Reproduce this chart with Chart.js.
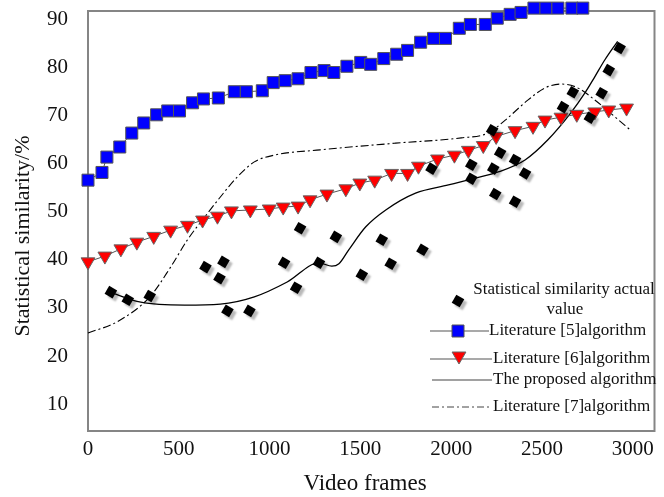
<!DOCTYPE html>
<html><head><meta charset="utf-8">
<script src="https://cdn.jsdelivr.net/npm/chart.js@4/dist/chart.umd.min.js"></script>
<style>html,body{margin:0;padding:0;background:#fff;}canvas{display:block;}</style>
</head><body>
<canvas id="c" width="664" height="497"></canvas>
<script>
// ---- tick labels ----
const xTickValues = [0, 500, 1000, 1500, 2000, 2500, 3000];
const yTickValues = [10, 20, 30, 40, 50, 60, 70, 80, 90];

// ---- Statistical similarity actual value (scatter) ----
const actualFrames = [126, 219, 340, 647, 724, 746, 768, 889, 1080, 1146, 1168, 1272, 1365, 1508, 1618, 1667, 1842, 1892, 2111, 2111, 2226, 2232, 2243, 2270, 2352, 2352, 2407, 2616, 2670, 2764, 2829, 2868, 2928];
const actualValues = [33.3, 31.7, 32.5, 38.5, 36.2, 39.6, 29.4, 29.4, 39.4, 34.2, 46.6, 39.4, 44.8, 36.9, 44.2, 39.2, 42.1, 59.0, 59.8, 56.9, 67.0, 59.0, 53.7, 62.3, 60.8, 52.1, 58.0, 71.8, 74.9, 69.6, 74.7, 79.5, 84.1];

// ---- Literature [5] algorithm ----
const lit5Frames = [0, 77, 104, 175, 241, 307, 378, 439, 504, 576, 636, 718, 806, 872, 960, 1020, 1086, 1157, 1228, 1300, 1354, 1426, 1502, 1557, 1629, 1700, 1760, 1832, 1903, 1969, 2045, 2106, 2188, 2254, 2325, 2385, 2456, 2522, 2588, 2665, 2725];
const lit5Values = [56.6, 58.2, 61.4, 63.5, 66.4, 68.5, 70.2, 71.0, 71.0, 72.7, 73.5, 73.7, 75.0, 75.0, 75.2, 76.9, 77.3, 77.7, 79.0, 79.4, 79.0, 80.3, 81.1, 80.7, 81.9, 82.8, 83.6, 85.3, 86.1, 86.1, 88.2, 89.0, 89.0, 90.3, 91.1, 91.5, 92.4, 92.4, 92.4, 92.4, 92.4];

// ---- Literature [6] algorithm ----
const lit6Frames = [0, 93, 181, 269, 362, 455, 548, 631, 713, 790, 894, 998, 1075, 1157, 1223, 1316, 1420, 1497, 1579, 1672, 1760, 1820, 1925, 2018, 2095, 2177, 2248, 2352, 2451, 2517, 2605, 2692, 2791, 2868, 2966];
const lit6Values = [39.6, 40.8, 42.3, 43.7, 44.9, 46.2, 47.2, 48.3, 49.1, 50.2, 50.4, 50.6, 51.0, 51.2, 52.5, 53.7, 54.8, 56.0, 56.6, 58.0, 58.0, 59.5, 61.0, 61.8, 62.8, 63.8, 65.7, 66.9, 67.8, 69.1, 69.7, 70.3, 70.8, 71.2, 71.6];

// ---- The proposed algorithm ----
const propFrames = [121, 291, 532, 729, 916, 1097, 1272, 1343, 1382, 1436, 1530, 1640, 1804, 1985, 2111, 2259, 2407, 2533, 2659, 2736, 2791, 2846, 2917];
const propValues = [33.3, 31.2, 30.6, 30.8, 32.3, 35.4, 39.4, 38.7, 39.2, 42.1, 46.9, 50.4, 53.9, 55.6, 56.8, 58.3, 60.8, 65.0, 70.6, 74.7, 78.1, 81.6, 85.5];

// ---- Literature [7] algorithm ----
const lit7Frames = [0, 159, 340, 455, 548, 642, 729, 823, 916, 1025, 1278, 1694, 2056, 2204, 2298, 2424, 2517, 2605, 2698, 2791, 2901, 2988];
const lit7Values = [24.8, 27.1, 32.3, 38.5, 44.2, 48.9, 53.1, 57.3, 60.4, 61.8, 62.9, 64.3, 65.4, 66.4, 69.1, 73.3, 75.8, 76.6, 75.8, 73.3, 69.8, 67.0];

const seriesLabels = ['Statistical similarity actual value', 'Literature [5]algorithm', 'Literature [6]algorithm', 'The proposed algorithm', 'Literature [7]algorithm'];

function pts(xs, ys) { return xs.map((x, i) => ({ x: x, y: ys[i] })); }

const SERIF = '"Liberation Serif", "Times New Roman", Times, serif';

// ---- marker drawing helpers for the legend ----
function drawSquare(ctx, x, y, s, fill, stroke) {
  ctx.beginPath(); ctx.rect(x - s / 2, y - s / 2, s, s);
  ctx.fillStyle = fill; ctx.fill(); ctx.lineWidth = 1; ctx.strokeStyle = stroke; ctx.stroke();
}
function drawTriDown(ctx, x, y, r, fill, stroke) {
  ctx.beginPath();
  ctx.moveTo(x - r * 0.866, y - r * 0.5);
  ctx.lineTo(x + r * 0.866, y - r * 0.5);
  ctx.lineTo(x, y + r);
  ctx.closePath();
  ctx.fillStyle = fill; ctx.fill(); ctx.lineWidth = 1; ctx.strokeStyle = stroke; ctx.stroke();
}
function drawDiamond(ctx, x, y, r, rot, fill) {
  ctx.save(); ctx.translate(x, y); ctx.rotate(rot);
  ctx.beginPath(); ctx.rect(-r * 0.707, -r * 0.707, r * 1.414, r * 1.414);
  ctx.fillStyle = fill; ctx.fill(); ctx.restore();
}

const framePlugin = {
  id: 'frame',
  beforeDatasetsDraw(chart) {
    const a = chart.chartArea, ctx = chart.ctx;
    ctx.save();
    ctx.strokeStyle = '#858585'; ctx.lineWidth = 2;
    ctx.strokeRect(a.left, a.top, a.right - a.left, a.bottom - a.top);
    ctx.restore();
  }
};

const shadowPlugin = {
  id: 'shadow',
  beforeDatasetDraw(chart, args) {
    const ds = chart.data.datasets[args.index];
    if (ds.dropShadow) {
      const ctx = chart.ctx; ctx.save();
      ctx.shadowColor = 'rgba(0,0,0,0.28)'; ctx.shadowBlur = 2; ctx.shadowOffsetX = 3; ctx.shadowOffsetY = 3;
    }
  },
  afterDatasetDraw(chart, args) {
    const ds = chart.data.datasets[args.index];
    if (ds.dropShadow) chart.ctx.restore();
  }
};

const titlesPlugin = {
  id: 'titles',
  afterDraw(chart) {
    const ctx = chart.ctx;
    ctx.save();
    ctx.fillStyle = '#111';
    ctx.textAlign = 'center'; ctx.textBaseline = 'middle';
    ctx.font = '23px ' + SERIF;
    ctx.fillText('Video frames', 365, 484);
    ctx.translate(23, 236); ctx.rotate(-Math.PI / 2);
    ctx.font = '22px ' + SERIF;
    ctx.fillText('Statistical similarity/%', 0, 0);
    ctx.restore();
  }
};

const legendPlugin = {
  id: 'customLegend',
  afterDraw(chart) {
    const ctx = chart.ctx;
    const labels = chart.data.datasets.map(d => d.label);
    ctx.save();
    ctx.font = '17px ' + SERIF;
    ctx.fillStyle = '#111';
    ctx.textBaseline = 'middle';
    // item 1: diamond + two-line label
    const l0 = labels[0]; const cut = l0.lastIndexOf(' ');
    ctx.save();
    ctx.shadowColor = 'rgba(0,0,0,0.28)'; ctx.shadowBlur = 2; ctx.shadowOffsetX = 3; ctx.shadowOffsetY = 3;
    drawDiamond(ctx, 458, 301, 6.5, Math.PI / 6, '#000');
    ctx.restore();
    ctx.textAlign = 'center';
    ctx.fillText(l0.slice(0, cut), 564, 290);
    ctx.fillText(l0.slice(cut + 1), 565, 310);
    ctx.textAlign = 'left';
    // item 2
    ctx.strokeStyle = '#555'; ctx.lineWidth = 1.2; ctx.setLineDash([]);
    ctx.beginPath(); ctx.moveTo(430, 331); ctx.lineTo(489, 331); ctx.stroke();
    drawSquare(ctx, 458, 331, 12, '#0000ff', '#555');
    ctx.fillStyle = '#111'; ctx.fillText(labels[1], 489, 331);
    // item 3
    ctx.beginPath(); ctx.moveTo(430, 359); ctx.lineTo(492, 359); ctx.strokeStyle = '#555'; ctx.lineWidth = 1.2; ctx.stroke();
    drawTriDown(ctx, 459, 356, 8, '#ff0000', '#666');
    ctx.fillStyle = '#111'; ctx.fillText(labels[2], 493, 359);
    // item 4
    ctx.beginPath(); ctx.moveTo(432, 380); ctx.lineTo(492, 380); ctx.strokeStyle = '#444'; ctx.lineWidth = 1.2; ctx.stroke();
    ctx.fillText(labels[3], 493, 380);
    // item 5
    ctx.setLineDash([7, 3, 2, 3]);
    ctx.beginPath(); ctx.moveTo(432, 407); ctx.lineTo(490, 407); ctx.strokeStyle = '#444'; ctx.lineWidth = 1; ctx.stroke();
    ctx.setLineDash([]);
    ctx.fillText(labels[4], 493, 407);
    ctx.restore();
  }
};

const tickFont = { family: SERIF, size: 21 };

new Chart(document.getElementById('c'), {
  type: 'line',
  data: {
    datasets: [
      {
        label: seriesLabels[0], data: pts(actualFrames, actualValues), showLine: false,
        pointStyle: 'rect', rotation: 30, pointRadius: 6.5, pointBackgroundColor: '#000', pointBorderColor: '#000',
        pointBorderWidth: 0, borderColor: '#000', backgroundColor: '#000', clip: false, dropShadow: true, order: 0
      },
      {
        label: seriesLabels[1], data: pts(lit5Frames, lit5Values), borderColor: '#555', borderWidth: 1,
        pointStyle: 'rect', pointRadius: 8.5, pointBackgroundColor: '#0000ff', pointBorderColor: '#555',
        pointBorderWidth: 1, tension: 0, clip: false, order: 1
      },
      {
        label: seriesLabels[2], data: pts(lit6Frames, lit6Values), borderColor: '#555', borderWidth: 1,
        pointStyle: 'triangle', rotation: 180, pointRadius: 8, pointBackgroundColor: '#ff0000', pointBorderColor: '#666',
        pointBorderWidth: 1, tension: 0, clip: false, order: 2
      },
      {
        label: seriesLabels[3], data: pts(propFrames, propValues), borderColor: '#000', borderWidth: 1.3,
        pointRadius: 0, cubicInterpolationMode: 'monotone', clip: false, order: 3
      },
      {
        label: seriesLabels[4], data: pts(lit7Frames, lit7Values), borderColor: '#000', borderWidth: 1.1,
        borderDash: [8, 3, 2, 3], pointRadius: 0, cubicInterpolationMode: 'monotone', clip: false, order: 4
      }
    ]
  },
  options: {
    responsive: false,
    animation: false,
    devicePixelRatio: 1,
    layout: { padding: { left: 0, right: 7, top: 11, bottom: 0 } },
    plugins: { legend: { display: false }, tooltip: { enabled: false }, title: { display: false } },
    scales: {
      x: {
        type: 'linear', min: 0, max: 3120,
        grid: { display: false, drawTicks: false, tickLength: 0 },
        border: { display: false },
        ticks: { font: tickFont, color: '#111', padding: 6, maxRotation: 0, autoSkip: false, callback: v => String(v) },
        afterBuildTicks: s => { s.ticks = xTickValues.map(v => ({ value: v })); },
        afterFit: s => { s.height = 66; s.paddingLeft = 0; s.paddingRight = 0; }
      },
      y: {
        type: 'linear', min: 4.4, max: 91.8,
        grid: { display: false, drawTicks: false, tickLength: 0 },
        border: { display: false },
        ticks: { font: tickFont, color: '#111', padding: 20, autoSkip: false, callback: v => String(v) },
        afterBuildTicks: s => { s.ticks = yTickValues.map(v => ({ value: v })); },
        afterFit: s => { s.width = 88; s.paddingTop = 0; s.paddingBottom = 0; }
      }
    }
  },
  plugins: [framePlugin, shadowPlugin, titlesPlugin, legendPlugin]
});
</script>
</body></html>
